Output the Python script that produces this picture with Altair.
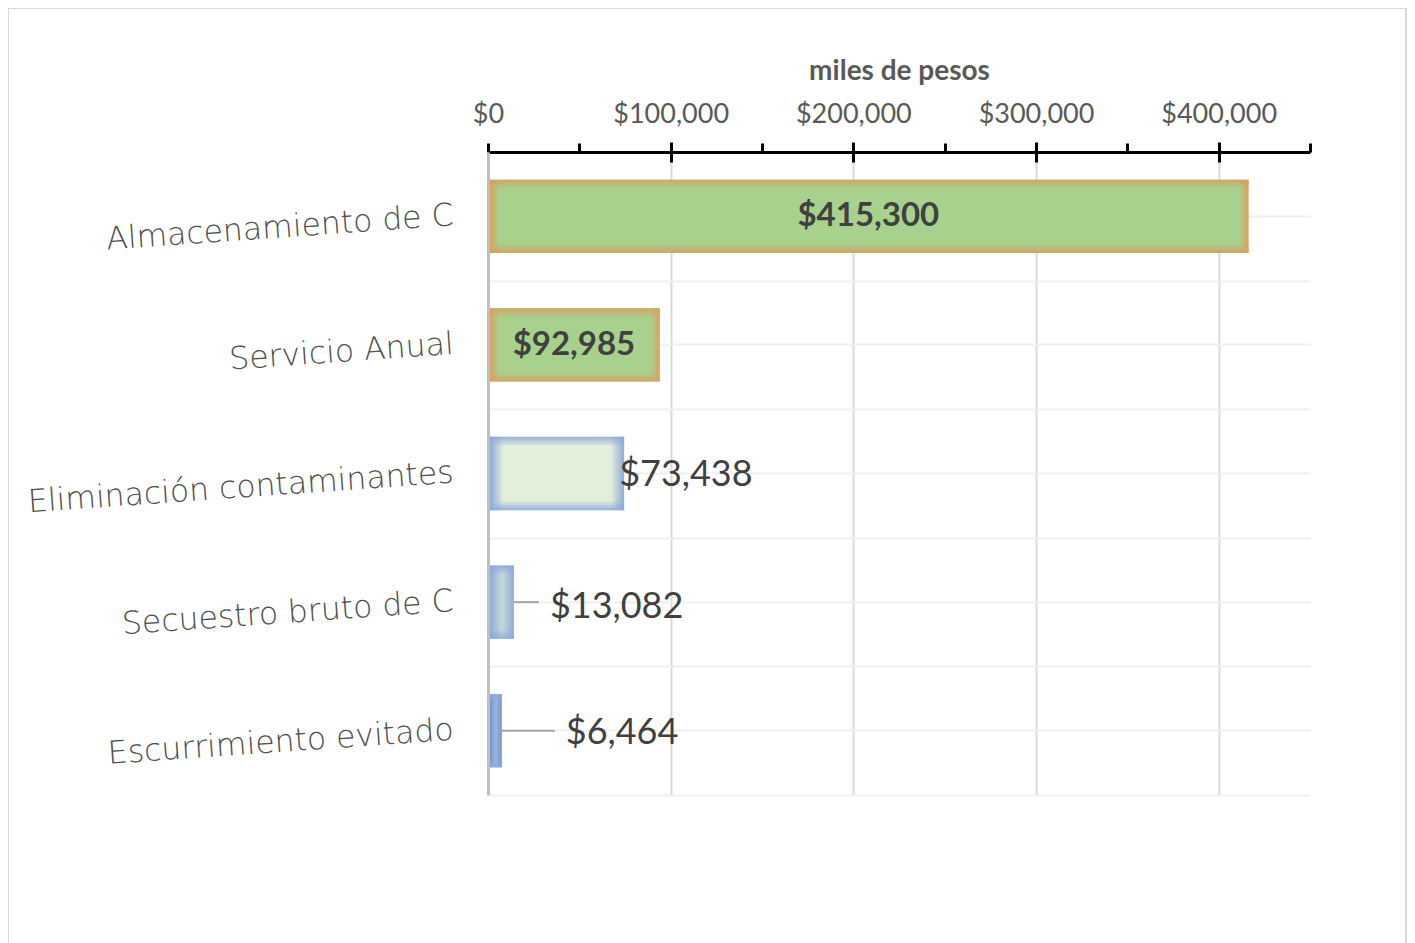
import altair as alt
import pandas as pd

categories = ["Almacenamiento de C", "Servicio Anual", "Eliminación contaminantes",
              "Secuestro bruto de C", "Escurrimiento evitado"]
values = [415300, 92985, 73438, 13082, 6464]
major_ticks = [0, 100000, 200000, 300000, 400000]
cross_ticks = [100000, 200000, 300000, 400000]
minor_ticks = [0, 50000, 150000, 250000, 350000, 450000]

df = pd.DataFrame({"cat": categories, "val": values})

W, H = 822, 643
FONT = "Lato"
CAT_FONT = "DejaVu Sans"
BAR_H = alt.RelativeBandSize(band=0.57)

xscale = alt.Scale(domain=[0, 450000], nice=False, zero=True)
yscale = alt.Scale(domain=categories, paddingInner=0, paddingOuter=0)


def X(axis=None, field="val:Q"):
    return alt.X(field, scale=xscale, axis=axis, title=None)


def Y(axis=None):
    return alt.Y("cat:N", sort=categories, scale=yscale, axis=axis, title=None)


def stops(pairs):
    return [alt.GradientStop(offset=o, color=c) for o, c in pairs]


def hgrad(edge, center, f):
    return alt.Gradient(gradient="linear", x1=0, x2=1, y1=0, y2=0,
                        stops=stops([(0, edge), (f, center), (1 - f, center), (1, edge)]))


def vgrad(rgb, f):
    return alt.Gradient(gradient="linear", x1=0, x2=0, y1=0, y2=1,
                        stops=stops([(0, f"rgba({rgb},0.9)"), (f, f"rgba({rgb},0)"),
                                     (1 - f, f"rgba({rgb},0)"), (1, f"rgba({rgb},0.9)")]))


base = alt.Chart(df)

main_x_axis = alt.Axis(orient="top", values=major_ticks, format="$,.0f", ticks=False,
                       labelFont=FONT, labelFontSize=27, labelColor="#595959", labelPadding=24,
                       labelFlush=False,
                       domain=True, domainColor="#000000", domainWidth=3,
                       grid=True, gridColor="#d9d9d9", gridWidth=2,
                       title="miles de pesos", titleFont=FONT, titleFontSize=28,
                       titleFontWeight="bold", titleColor="#595959", titlePadding=15)
minor_x_axis = alt.Axis(orient="top", values=minor_ticks, labels=False, domain=False, grid=False,
                        ticks=True, tickSize=9, tickColor="#000000", tickWidth=3, title=None)
cross_x_axis = alt.Axis(orient="top", values=cross_ticks, labels=False, domain=False, grid=False,
                        ticks=True, tickSize=20, tickColor="#000000", tickWidth=3, offset=-10,
                        title=None)
main_y_axis = alt.Axis(orient="left", ticks=False, labelFont=CAT_FONT, labelFontSize=31.5,
                       labelFontWeight=200, labelColor="#4f4f4f", labelAngle=356,
                       labelPadding=35, labelAlign="right", labelBaseline="middle",
                       labelLimit=600, domain=True, domainColor="#bfbfbf", domainWidth=3,
                       grid=True, gridColor="#f0f0f0", gridWidth=2, tickBand="center")
extent_y_axis = alt.Axis(orient="left", ticks=False, labels=False, domain=False, grid=True,
                         gridColor="#f0f0f0", gridWidth=2, tickBand="extent")

bar_styles = [
    ("#dba25f", "#a9d18e", 0.013, main_x_axis, main_y_axis),
    ("#dba25f", "#a9d18e", 0.055, minor_x_axis, extent_y_axis),
    ("#8eaadb", "#e2efda", 0.10, cross_x_axis, None),
    ("#8eaadb", "#c6dad6", 0.5, None, None),
    ("#6f94d0", "#9cb6dd", 0.5, None, None),
]

layers = []
for cat, (edge, center, f, xa, ya) in zip(categories, bar_styles):
    layers.append(
        base.transform_filter(alt.datum.cat == cat)
        .mark_bar(fill=hgrad(edge, center, f), xOffset=2, height=BAR_H)
        .encode(x=X(xa), y=Y(ya))
    )

layers.append(
    base.transform_filter(alt.FieldOneOfPredicate(field="cat", oneOf=categories[:2]))
    .mark_bar(fill=vgrad("214,160,95", 0.13), xOffset=2, height=BAR_H)
    .encode(x=X(), y=Y())
)
layers.append(
    base.transform_filter(alt.FieldOneOfPredicate(field="cat", oneOf=categories[2:]))
    .mark_bar(fill=vgrad("142,170,219", 0.13), xOffset=2, height=BAR_H)
    .encode(x=X(), y=Y())
)

# inside labels (bold, centered)
layers.append(
    base.transform_filter(alt.FieldOneOfPredicate(field="cat", oneOf=categories[:2]))
    .transform_calculate(mid="datum.val / 2")
    .mark_text(font=FONT, fontSize=33, fontWeight="bold", color="#404040",
               align="center", baseline="middle", dx=1)
    .encode(x=X(field="mid:Q"), y=Y(), text=alt.Text("val:Q", format="$,.0f"))
)

# outside labels
for cat, dx, dy in [(categories[2], -3, 1), (categories[3], 38, 5), (categories[4], 66, 2)]:
    layers.append(
        base.transform_filter(alt.datum.cat == cat)
        .mark_text(font=FONT, fontSize=36, color="#404040", align="left",
                   baseline="middle", dx=dx, dy=dy)
        .encode(x=X(), y=Y(), text=alt.Text("val:Q", format="$,.0f"))
    )

# leader lines
for cat, x0, x1 in [(categories[3], 2, 27), (categories[4], 2, 55)]:
    layers.append(
        base.transform_filter(alt.datum.cat == cat)
        .mark_rule(color="#a6a6a6", strokeWidth=2, xOffset=x0, x2Offset=x1)
        .encode(x=X(), x2="val:Q", y=Y())
    )

# chart-area frame
frame = alt.Chart(pd.DataFrame({"f": [0]})).mark_rect(
    fillOpacity=0, stroke="#d9d9d9", strokeWidth=2
).encode(x=alt.value(-480), x2=alt.value(W + 96), y=alt.value(-144), y2=alt.value(H + 220))
layers.append(frame)

chart = (
    alt.layer(*layers)
    .resolve_axis(x="independent", y="independent")
    .properties(width=W, height=H, padding={"left": 480, "top": 144, "right": 97, "bottom": 148},
                autosize=alt.AutoSizeParams(type="none"), background="#ffffff")
    .configure_view(stroke=None)
)

chart.save("out.html", embed_options={"renderer": "svg", "actions": False})
